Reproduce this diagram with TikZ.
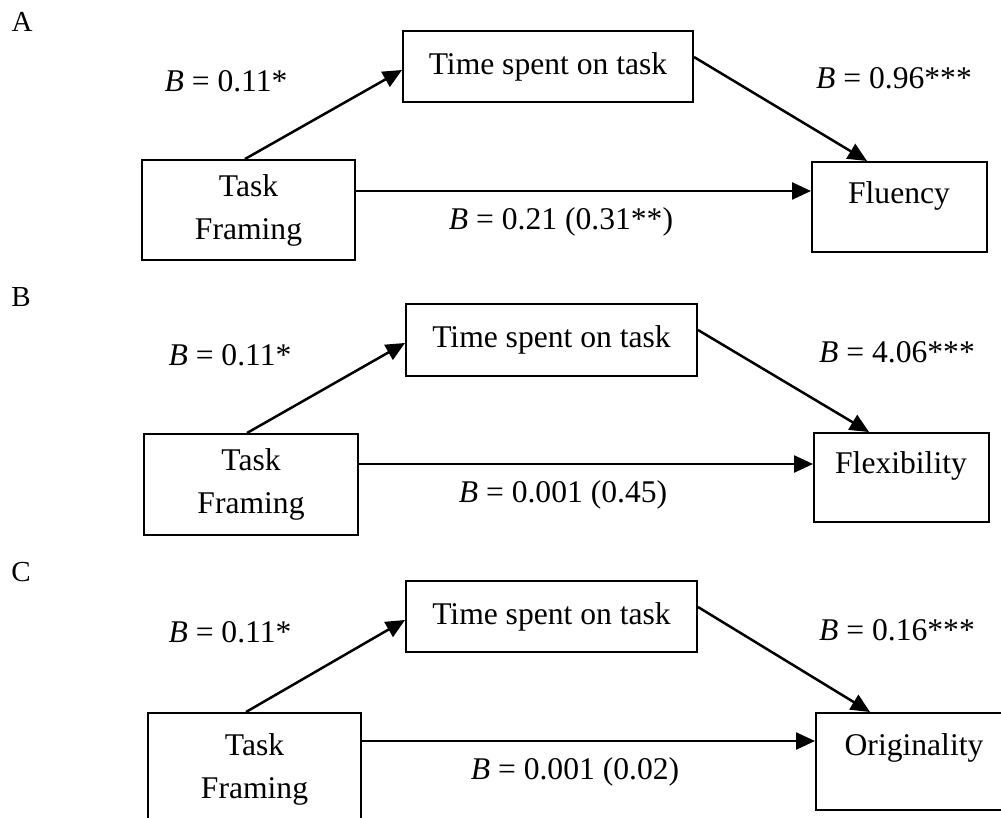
\documentclass[tikz,border=0pt]{standalone}
\usepackage{fontspec}
\setmainfont{Liberation Serif}
\usetikzlibrary{arrows.meta}

\tikzset{
  box/.style={draw, line width=1pt, inner sep=0pt, align=center},
  arr/.style={line width=1.25pt, -{Triangle[length=9.5pt,width=8.5pt]}},
  panel/.style={inner sep=0pt, font=\fontsize{14.5}{17}\selectfont}
}

\begin{document}
\begin{tikzpicture}[x=0.5pt, y=-0.5pt, font=\fontsize{15.8}{21.5}\selectfont]
    \clip (0,0) rectangle (1001,818);
    % Panel A
    \node[panel] (labA) at (22,22) {A};
    \node[box, minimum width=145pt, minimum height=35.5pt] (timeA) at (548,66.5) {Time spent on task};
    \node[box, minimum width=106.5pt, minimum height=50pt] (tfA) at (248.5,210) {Task\\Framing};
    \node[box, minimum width=87.5pt, minimum height=45pt] (fluA) at (899.5,207) {};
    \node (fluAtxt) at (899,196) {Fluency};
    \draw[arr] ([xshift=-1.75pt]tfA.north) -- ([yshift=-1.75pt]timeA.west); % a path
    \draw[arr] ([yshift=4.75pt]timeA.east) -- ([xshift=-16.25pt]fluA.north); % b path
    \draw[arr] ([yshift=9.5pt]tfA.east) -- ([yshift=9.5pt]tfA.east -| fluA.west); % direct path
    \node (bA1) at (226,81) {\textit{B} = 0.11*};
    \node (bA2) at (894,78) {\textit{B} = 0.96***};
    \node (bA3) at (561,222) {\textit{B} = 0.21 (0.31**)};
    % Panel B
    \node[panel] (labB) at (21,297) {B};
    \node[box, minimum width=145.5pt, minimum height=36pt] (timeB) at (551.5,340) {Time spent on task};
    \node[box, minimum width=107pt, minimum height=50.5pt] (tfB) at (251,484.5) {Task\\Framing};
    \node[box, minimum width=87.5pt, minimum height=44.5pt] (flexB) at (901.5,477.5) {};
    \node (flexBtxt) at (901,466) {Flexibility};
    \draw[arr] ([xshift=-2pt]tfB.north) -- ([yshift=-1.5pt]timeB.west); % a path
    \draw[arr] ([yshift=5pt]timeB.east) -- ([xshift=-16.25pt]flexB.north); % b path
    \draw[arr] ([yshift=10.25pt]tfB.east) -- ([yshift=10.25pt]tfB.east -| flexB.west); % direct path
    \node (bB1) at (230,355) {\textit{B} = 0.11*};
    \node (bB2) at (897,352) {\textit{B} = 4.06***};
    \node (bB3) at (563,495) {\textit{B} = 0.001 (0.45)};
    % Panel C
    \node[panel] (labC) at (21,572) {C};
    \node[box, minimum width=145.5pt, minimum height=35.5pt] (timeC) at (551.5,616.5) {Time spent on task};
    \node[box, minimum width=106.5pt, minimum height=56pt] (tfC) at (254.5,769) {Task\\Framing};
    \node[box, minimum width=97pt, minimum height=48.5pt] (origC) at (913,761.5) {};
    \node (origCtxt) at (914,748) {Originality};
    \draw[arr] ([xshift=-4.25pt]tfC.north) -- ([yshift=-1.75pt]timeC.west); % a path
    \draw[arr] ([yshift=4.75pt]timeC.east) -- ([xshift=-21.5pt]origC.north); % b path
    \draw[arr] ([yshift=14pt]tfC.east) -- ([yshift=14pt]tfC.east -| origC.west); % direct path
    \node (bC1) at (230,632) {\textit{B} = 0.11*};
    \node (bC2) at (897,630) {\textit{B} = 0.16***};
    \node (bC3) at (575,772) {\textit{B} = 0.001 (0.02)};
\end{tikzpicture}
\end{document}
